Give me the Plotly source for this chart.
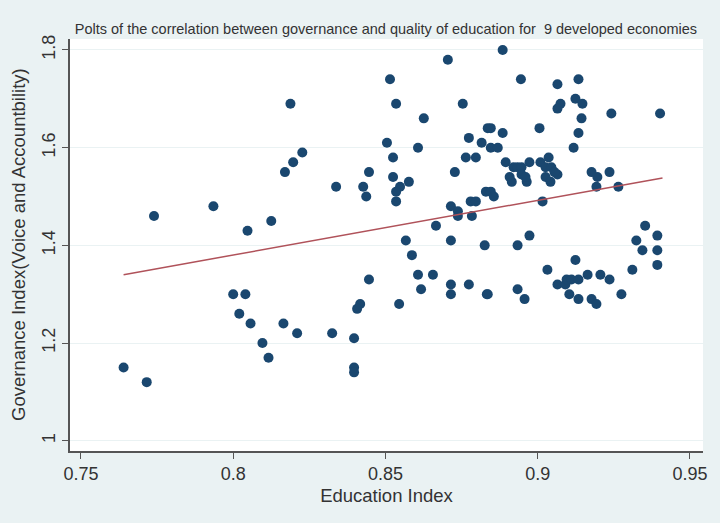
import plotly.graph_objects as go

edu_index = [
    0.764, 0.7716, 0.774, 0.7935, 0.800, 0.804, 0.802, 0.8057, 0.8047, 0.8096,
    0.8116, 0.8125, 0.8165, 0.817, 0.8188, 0.8197, 0.821, 0.8227,
    0.8705, 0.8515, 0.8535, 0.8754, 0.8626, 0.8505, 0.8607, 0.8774, 0.8816, 0.8836,
    0.8525, 0.8764, 0.8797, 0.8446, 0.8525, 0.8577, 0.8338, 0.8427, 0.8437, 0.8548,
    0.8535, 0.8535, 0.8728, 0.8830, 0.8780, 0.8797, 0.8715, 0.8738, 0.8738, 0.8784,
    0.8666, 0.8567, 0.8715, 0.8826,
    0.8587, 0.8607, 0.8656, 0.8617, 0.8715, 0.8715, 0.8774, 0.8833, 0.8446, 0.8417,
    0.8407, 0.8545, 0.8325, 0.8397, 0.8397, 0.8397,
    0.8885, 0.8945, 0.9065, 0.9134, 0.9124, 0.9147, 0.9075, 0.9065, 0.9144, 0.9242,
    0.9402, 0.9134, 0.9006, 0.9118, 0.8846, 0.8885, 0.8846, 0.8869, 0.8895, 0.8921,
    0.8934, 0.8947, 0.8973, 0.9009, 0.9036, 0.9026, 0.9045, 0.9065, 0.8908, 0.8915,
    0.8947, 0.8964, 0.8960, 0.9026, 0.9042, 0.9055, 0.9177, 0.9196, 0.9236, 0.9193,
    0.9265, 0.8846, 0.8856, 0.9016, 0.8934, 0.8973, 0.9353, 0.9393, 0.9324,
    0.9344, 0.9393, 0.9393, 0.9311, 0.9124, 0.9032, 0.9065, 0.9091, 0.9095, 0.9111,
    0.9134, 0.9164, 0.9206, 0.9236, 0.9275, 0.9104, 0.9134, 0.9177, 0.9193, 0.8836,
    0.8934, 0.8957,
]
gov_index = [
    1.15, 1.12, 1.46, 1.48, 1.30, 1.30, 1.26, 1.24, 1.43, 1.20,
    1.17, 1.45, 1.24, 1.55, 1.69, 1.57, 1.22, 1.59,
    1.78, 1.74, 1.69, 1.69, 1.66, 1.61, 1.60, 1.62, 1.61, 1.64,
    1.58, 1.58, 1.58, 1.55, 1.54, 1.53, 1.52, 1.52, 1.50, 1.52,
    1.51, 1.49, 1.55, 1.51, 1.49, 1.49, 1.48, 1.47, 1.46, 1.46,
    1.44, 1.41, 1.41, 1.40,
    1.38, 1.34, 1.34, 1.31, 1.32, 1.30, 1.32, 1.30, 1.33, 1.28,
    1.27, 1.28, 1.22, 1.21, 1.15, 1.14,
    1.80, 1.74, 1.73, 1.74, 1.70, 1.69, 1.69, 1.68, 1.66, 1.67,
    1.67, 1.63, 1.64, 1.60, 1.64, 1.63, 1.60, 1.60, 1.57, 1.56,
    1.56, 1.56, 1.57, 1.57, 1.58, 1.56, 1.56, 1.545, 1.54, 1.53,
    1.545, 1.53, 1.54, 1.54, 1.53, 1.55, 1.55, 1.54, 1.55, 1.52,
    1.52, 1.51, 1.50, 1.49, 1.40, 1.42, 1.44, 1.42, 1.41,
    1.39, 1.39, 1.36, 1.35, 1.37, 1.35, 1.32, 1.32, 1.33, 1.33,
    1.33, 1.34, 1.34, 1.33, 1.30, 1.30, 1.29, 1.29, 1.28, 1.30,
    1.31, 1.29,
]

fit_x = [0.764, 0.941]
fit_y = [1.340, 1.538]

x_ticks = [0.75, 0.8, 0.85, 0.9, 0.95]
x_tick_labels = ["0.75", "0.8", "0.85", "0.9", "0.95"]
y_ticks = [1, 1.2, 1.4, 1.6, 1.8]
y_tick_labels = ["1", "1.2", "1.4", "1.6", "1.8"]

title_text = "Polts of the correlation between governance and quality of education for  9 developed economies"
x_title = "Education Index"
y_title = "Governance Index(Voice and Accountbility)"

fig = go.Figure()
fig.add_trace(go.Scatter(
    x=edu_index, y=gov_index, mode="markers",
    marker=dict(color="#1a476f", size=10, line=dict(width=0)),
    showlegend=False,
))
fig.add_trace(go.Scatter(
    x=fit_x, y=fit_y, mode="lines",
    line=dict(color="#b0525a", width=1.5),
    showlegend=False,
))

font_family = "Liberation Sans, Arial, sans-serif"
fig.update_layout(
    width=720, height=523,
    margin=dict(l=70, r=17, t=39, b=72),
    paper_bgcolor="#eaf2f3",
    plot_bgcolor="#ffffff",
    font=dict(family=font_family, color="#333333", size=17),
    title=dict(text=title_text, x=0.536, xanchor="center", y=1 - 29 / 523, yanchor="middle",
               font=dict(size=14.5, color="#333333")),
)
fig.add_annotation(
    text=y_title, xref="paper", yref="paper",
    x=-52 / 633, y=0.5, xanchor="center", yanchor="middle",
    textangle=-90, showarrow=False, font=dict(size=18.5, color="#333333"),
)
fig.update_xaxes(
    range=[0.7464, 0.9543],
    tickvals=x_ticks, ticktext=x_tick_labels,
    ticks="outside", ticklen=6, tickcolor="#555555",
    showline=True, linecolor="#555555", linewidth=1.5,
    showgrid=False, zeroline=False,
    title=dict(text=x_title, font=dict(size=18.5), standoff=6),
    tickfont=dict(size=18),
)
fig.update_yaxes(
    range=[0.979, 1.8225],
    tickvals=y_ticks, ticktext=y_tick_labels,
    ticks="outside", ticklen=6, tickcolor="#555555",
    tickangle=-90,
    showline=True, linecolor="#555555", linewidth=1.5,
    showgrid=True, gridcolor="#eaf2f3", gridwidth=1,
    zeroline=False,
    tickfont=dict(size=18),
)

fig.write_html("out.html")
